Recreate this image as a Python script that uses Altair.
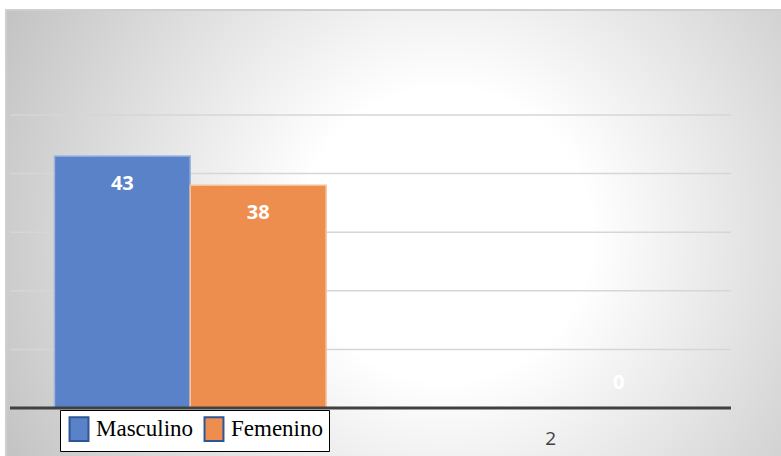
import altair as alt
import pandas as pd

categories = ["1", "1", "2"]
series = ["Masculino", "Femenino", "Femenino"]
values = [43, 38, 0]
series_order = ["Masculino", "Femenino"]
series_colors = ["#5a82c9", "#ee8e4e"]
x_labels = ["1", "2"]
grid_values = [10, 20, 30, 40, 50]

df = pd.DataFrame({"cat": categories, "serie": series, "valor": values})

bg_gradient = {
    "gradient": "radial",
    "x1": 0.56, "y1": 0.5, "r1": 0.0,
    "x2": 0.56, "y2": 0.5, "r2": 0.62,
    "stops": [
        {"offset": 0.0, "color": "#ffffff"},
        {"offset": 0.3, "color": "#ffffff"},
        {"offset": 1.0, "color": "#c4c4c4"},
    ],
}

background = alt.Chart(pd.DataFrame({"a": [0]})).mark_rect(
    fill=bg_gradient, stroke="#cfcfcf", strokeWidth=2
).encode(
    x=alt.value(-4), x2=alt.value(780), y=alt.value(-105), y2=alt.value(345)
)

xscale = alt.Scale(domain=x_labels, paddingInner=0.0, paddingOuter=0.0)
oscale = alt.Scale(domain=series_order, paddingInner=0.0, paddingOuter=0.327)
yscale = alt.Scale(domain=[0, 50])

grid = alt.Chart(pd.DataFrame({"g": grid_values})).mark_rule(
    color="#d6d6d6", strokeWidth=1.5
).encode(
    y=alt.Y("g:Q", scale=yscale), x=alt.value(0), x2=alt.value(721)
)

nbsp = "\u00a0" * 3
fem_expr = "datum.label == 'Femenino' ? 'Femenino" + nbsp + "' : datum.label"

bars = alt.Chart(df).mark_bar(strokeWidth=1.5, opacity=1).encode(
    x=alt.X("cat:N", scale=xscale,
            axis=alt.Axis(title=None, labelAngle=0, ticks=False, domain=False, grid=False,
                          labelFont="Open Sans", labelFontSize=19, labelColor="#404040",
                          labelPadding=21, zindex=1,
                          labelExpr="datum.label == '1' ? '' : datum.label")),
    xOffset=alt.XOffset("serie:N", scale=oscale),
    y=alt.Y("valor:Q", scale=yscale,
            axis=alt.Axis(title=None, labels=False, ticks=False, domain=False, grid=False)),
    color=alt.Color("serie:N", scale=alt.Scale(domain=series_order, range=series_colors),
                    legend=alt.Legend(title=None, orient="none", legendX=50, legendY=295,
                                      direction="horizontal", fillColor="#ffffff",
                                      strokeColor="#000000", padding=6,
                                      symbolType="M-0.8,-1L0.8,-1L0.8,1L-0.8,1Z", symbolSize=560,
                                      symbolStrokeColor="#2f5597", symbolStrokeWidth=2,
                                      labelFont="Liberation Serif", labelFontSize=23,
                                      labelColor="#000000", columnPadding=6,
                                      labelOffset=4, symbolOpacity=1, zindex=2,
                                      labelExpr=fem_expr)),
    stroke=alt.condition("datum.serie == 'Masculino'", alt.value("#9fb6e1"), alt.value("#f5c19c")),
)

labels_pos = alt.Chart(df).transform_filter("datum.valor > 0").mark_text(
    color="white", font="Open Sans", fontWeight="bold", fontSize=20, dy=28
).encode(
    x=alt.X("cat:N", scale=xscale),
    xOffset=alt.XOffset("serie:N", scale=oscale),
    y=alt.Y("valor:Q", scale=yscale),
    text="valor:Q",
)

labels_zero = alt.Chart(df).transform_filter("datum.valor == 0").mark_text(
    color="white", font="Open Sans", fontWeight="bold", fontSize=20, dy=-25
).encode(
    x=alt.X("cat:N", scale=xscale),
    xOffset=alt.XOffset("serie:N", scale=oscale),
    y=alt.Y("valor:Q", scale=yscale),
    text="valor:Q",
)

baseline = alt.Chart(pd.DataFrame({"y": [0]})).mark_rule(color="#404040", strokeWidth=3).encode(
    y=alt.Y("y:Q", scale=yscale)
)

chart = alt.layer(background, grid, bars, labels_pos, labels_zero, baseline).properties(
    width=721, height=293,
    autosize=alt.AutoSizeParams(type="none"),
    padding={"left": 10, "top": 115, "right": 50, "bottom": 48},
).configure_view(stroke=None).configure(background="#ffffff")

chart.save("out.html", embed_options={"renderer": "svg", "actions": False})
